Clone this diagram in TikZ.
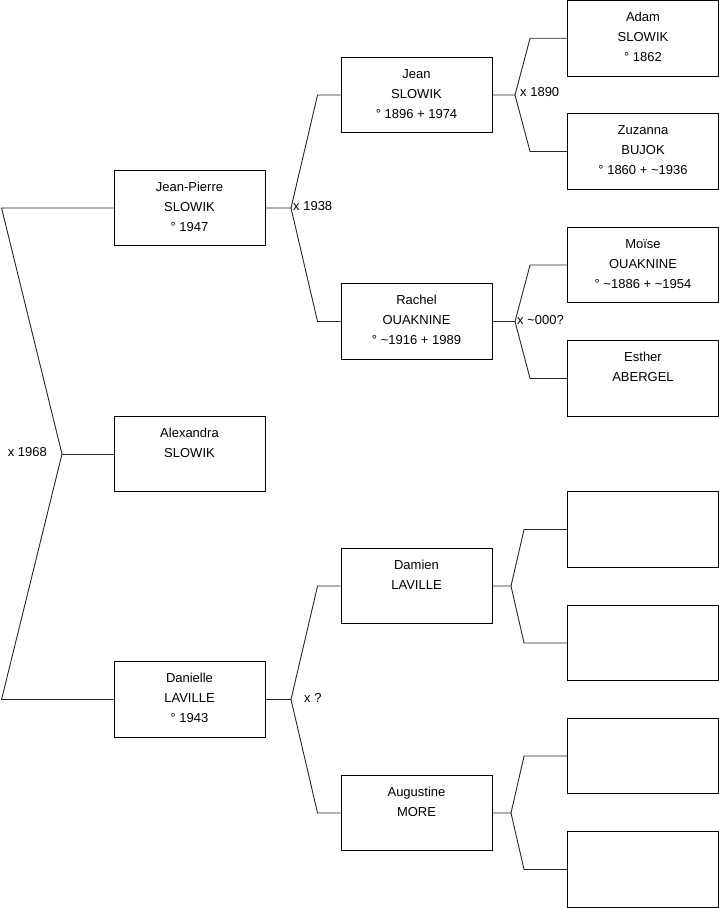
\documentclass[tikz,border=0pt]{standalone}
\usepackage{fontspec}
\setmainfont{Liberation Sans}
\begin{document}
\begin{tikzpicture}[x=1pt,y=-1pt,
  person/.style={draw=black, line width=0.9pt, minimum width=151pt, minimum height=75.5pt, inner sep=0pt},
  txt/.style={anchor=north, inner sep=0pt, align=center, font=\fontsize{13}{20}\selectfont, yshift=-11pt},
  lnk/.style={draw=black!85, line width=0.9pt},
  mlab/.style={inner sep=0pt, font=\fontsize{13}{16}\selectfont}]
\useasboundingbox (0,0) rectangle (719,908);
\newcommand{\fl}{\rule{0pt}{10pt}}
% column 1
\node[person] (jp)  at (189.5,208)   {};
\node[person] (ale) at (189.5,454)   {};
\node[person] (dan) at (189.5,699.5) {};
% column 2
\node[person] (jean) at (416.5,95)    {};
\node[person] (rach) at (416.5,321.5) {};
\node[person] (dam)  at (416.5,586)   {};
\node[person] (aug)  at (416.5,813)   {};
% column 3
\node[person] (adam) at (643,38.25)  {};
\node[person] (zuz)  at (643,151.5) {};
\node[person] (moi)  at (643,265)   {};
\node[person] (est)  at (643,378.5) {};
\node[person] (e1)   at (643,529.5) {};
\node[person] (e2)   at (643,643)   {};
\node[person] (e3)   at (643,756)   {};
\node[person] (e4)   at (643,869.5) {};
% texts
\node[txt] (tjp)   at (jp.north)   {\fl Jean-Pierre\\SLOWIK\\° 1947};
\node[txt] (tale)  at (ale.north)  {\fl Alexandra\\SLOWIK};
\node[txt] (tdan)  at (dan.north)  {\fl Danielle\\LAVILLE\\° 1943};
\node[txt] (tjean) at (jean.north) {\fl Jean\\SLOWIK\\° 1896 + 1974};
\node[txt] (trach) at (rach.north) {\fl Rachel\\OUAKNINE\\° \textasciitilde1916 + 1989};
\node[txt] (tdam)  at (dam.north)  {\fl Damien\\LAVILLE};
\node[txt] (taug)  at (aug.north)  {\fl Augustine\\MORE};
\node[txt] (tadam) at (adam.north) {\fl Adam\\SLOWIK\\° 1862};
\node[txt] (tzuz)  at (zuz.north)  {\fl Zuzanna\\BUJOK\\° 1860 + \textasciitilde1936};
\node[txt] (tmoi)  at (moi.north)  {\fl Moïse\\OUAKNINE\\° \textasciitilde1886 + \textasciitilde1954};
\node[txt] (test)  at (est.north)  {\fl Esther\\ABERGEL};
% fork points
\coordinate (f0) at (62,454);
\coordinate (f1) at (291,208);
\coordinate (f2) at (515,95);
\coordinate (f3) at (515,321.5);
\coordinate (f4) at (291,699.5);
\coordinate (f5) at (511,586);
\coordinate (f6) at (511,813);
% connectors
\draw[lnk] (ale.west) -- (f0);
\draw[lnk] (f0) -- ([xshift=-112pt]jp.west) -- (jp.west);
\draw[lnk] (f0) -- ([xshift=-112pt]dan.west) -- (dan.west);
\draw[lnk] (jp.east) -- (f1) -- ([xshift=-23pt]jean.west) -- (jean.west);
\draw[lnk] (f1) -- ([xshift=-23pt]rach.west) -- (rach.west);
\draw[lnk] (dan.east) -- (f4) -- ([xshift=-23pt]dam.west) -- (dam.west);
\draw[lnk] (f4) -- ([xshift=-23pt]aug.west) -- (aug.west);
\draw[lnk] (jean.east) -- (f2) -- ([xshift=-37pt]adam.west) -- (adam.west);
\draw[lnk] (f2) -- ([xshift=-37pt]zuz.west) -- (zuz.west);
\draw[lnk] (rach.east) -- (f3) -- ([xshift=-37pt]moi.west) -- (moi.west);
\draw[lnk] (f3) -- ([xshift=-37pt]est.west) -- (est.west);
\draw[lnk] (dam.east) -- (f5) -- ([xshift=-43pt]e1.west) -- (e1.west);
\draw[lnk] (f5) -- ([xshift=-43pt]e2.west) -- (e2.west);
\draw[lnk] (aug.east) -- (f6) -- ([xshift=-43pt]e3.west) -- (e3.west);
\draw[lnk] (f6) -- ([xshift=-43pt]e4.west) -- (e4.west);
% marriage labels
\node[mlab, anchor=east] (m0) at ([xshift=-15pt,yshift=2pt]f0) {x 1968};
\node[mlab, anchor=west] (m1) at ([xshift=2pt,yshift=1.5pt]f1) {x 1938};
\node[mlab, anchor=west] (m2) at ([xshift=5pt,yshift=2.5pt]f2) {x 1890};
\node[mlab, anchor=west] (m3) at ([xshift=2pt,yshift=1.5pt]f3) {x \textasciitilde000?};
\node[mlab, anchor=west] (m4) at ([xshift=13pt,yshift=2pt]f4) {x ?};
\end{tikzpicture}
\end{document}
